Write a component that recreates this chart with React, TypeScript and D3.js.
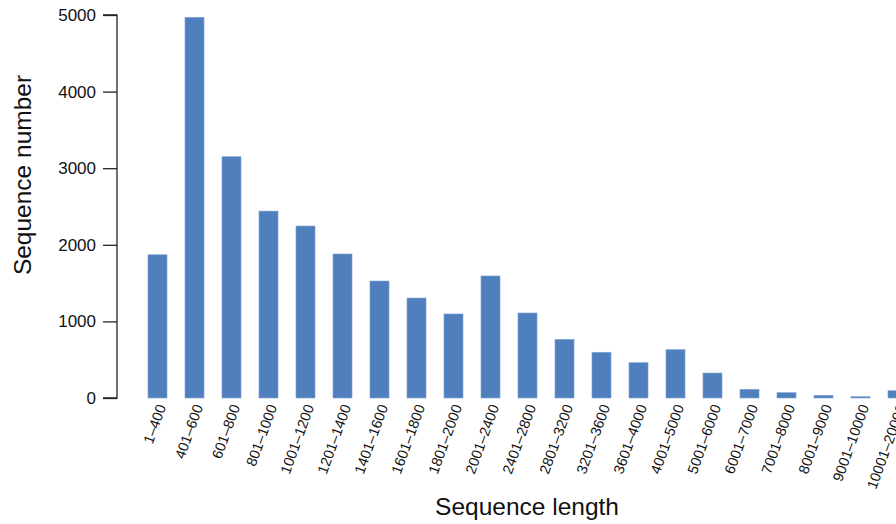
import { useEffect, useRef } from "react";
import * as d3 from "d3";

const categories = [
  "1\u2013400", "401\u2013600", "601\u2013800", "801\u20131000", "1001\u20131200",
  "1201\u20131400", "1401\u20131600", "1601\u20131800", "1801\u20132000", "2001\u20132400",
  "2401\u20132800", "2801\u20133200", "3201\u20133600", "3601\u20134000", "4001\u20135000",
  "5001\u20136000", "6001\u20137000", "7001\u20138000", "8001\u20139000", "9001\u201310000",
  "10001\u201320000",
];
const counts = [
  1870, 4970, 3150, 2440, 2245, 1880, 1527, 1305, 1097, 1593,
  1110, 766, 597, 461, 631, 326, 113, 70, 35, 17, 95,
];
const yTicks = [0, 1000, 2000, 3000, 4000, 5000];

const W = 896;
const H = 524;
const font = "Liberation Sans, Arial, sans-serif";

export default function App() {
  const ref = useRef<SVGSVGElement>(null);

  useEffect(() => {
    const svg = d3.select(ref.current);
    svg.selectAll("*").remove();

    // plot region
    const y = d3.scaleLinear().domain([0, 5000]).range([398, 15]);
    const x = d3.scaleBand<string>()
      .domain(categories)
      .range([139, 139 + 37 * categories.length])
      .paddingInner(0.486)
      .paddingOuter(0.243);

    svg.append("g")
      .selectAll("rect")
      .data(categories)
      .enter()
      .append("rect")
      .attr("x", d => x(d)!)
      .attr("width", x.bandwidth())
      .attr("y", (d, i) => y(counts[i]))
      .attr("height", (d, i) => y(0) - y(counts[i]))
      .attr("fill", "#4f80bd")
      .attr("stroke", "#7fa3d2")
      .attr("stroke-width", 0.6);

    // y axis
    const yAxis = d3.axisLeft(y).tickValues(yTicks).tickFormat(d3.format("d")).tickSize(14).tickPadding(7);
    const gy = svg.append("g").attr("transform", "translate(117,0)").call(yAxis);
    gy.select(".domain").attr("stroke", "#222").attr("stroke-width", 1.3)
      .attr("d", `M-14,${y(5000)}H0V${y(0)}H-14`);
    gy.selectAll(".tick line").attr("stroke", "#222").attr("stroke-width", 1.3);
    gy.selectAll(".tick text")
      .attr("font-family", font)
      .attr("font-size", 17)
      .attr("fill", "#111");

    // x tick labels, rotated
    svg.append("g")
      .selectAll("text")
      .data(categories)
      .enter()
      .append("text")
      .attr("transform", d => `translate(${x(d)! + x.bandwidth() / 2 + 4},${405}) rotate(-70)`)
      .attr("text-anchor", "end")
      .attr("dy", "0.35em")
      .attr("font-family", font)
      .attr("font-size", 14.5)
      .attr("fill", "#111")
      .text(d => d);

    // axis titles
    svg.append("text")
      .attr("x", 527)
      .attr("y", 515)
      .attr("text-anchor", "middle")
      .attr("font-family", font)
      .attr("font-size", 24.5)
      .attr("fill", "#111")
      .text("Sequence length");

    svg.append("text")
      .attr("transform", "translate(31,175) rotate(-90)")
      .attr("text-anchor", "middle")
      .attr("font-family", font)
      .attr("font-size", 24.5)
      .attr("fill", "#111")
      .text("Sequence number");
  }, []);

  return (
    <svg
      ref={ref}
      width={W}
      height={H}
      style={{ position: "absolute", left: 0, top: 0, background: "#fff" }}
    />
  );
}
